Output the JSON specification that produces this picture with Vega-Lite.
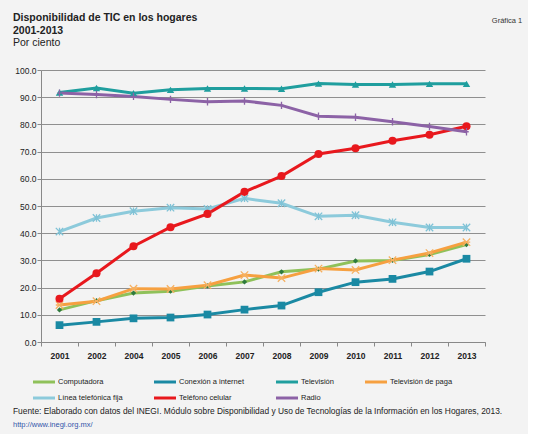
{
  "$schema": "https://vega.github.io/schema/vega-lite/v6.json",
  "background": "#f3f3f3",
  "padding": {"left": 13, "top": 13, "right": 5, "bottom": 2},
  "config": {
    "view": {"stroke": null},
    "font": "Liberation Sans",
    "axis": {"labelFont": "Liberation Sans", "labelColor": "#222"},
    "legend": {"labelFont": "Liberation Sans"}
  },
  "resolve": {"legend": {"color": "independent"}},
  "title": {"text": "Gráfica 1", "anchor": "end", "fontSize": 7.5, "fontWeight": "normal", "color": "#333", "offset": -8, "dy": 3, "dx": 20},
  "spacing": 2,
  "vconcat": [
    {
      "width": 444,
      "height": 272,
      "title": {
        "text": ["Disponibilidad de TIC en los hogares", "2001-2013"],
        "subtitle": "Por ciento",
        "anchor": "start",
        "frame": "group",
        "dx": -28,
        "fontSize": 10.5,
        "fontWeight": "bold",
        "lineHeight": 13,
        "color": "#222",
        "subtitleFontSize": 10.5,
        "subtitleColor": "#222",
        "subtitlePadding": 1,
        "offset": 18
      },
      "data": {"values": [
        {"year": "2001", "serie": "Computadora", "v": 11.8},
        {"year": "2002", "serie": "Computadora", "v": 15.2},
        {"year": "2004", "serie": "Computadora", "v": 18.0},
        {"year": "2005", "serie": "Computadora", "v": 18.7},
        {"year": "2006", "serie": "Computadora", "v": 20.6},
        {"year": "2007", "serie": "Computadora", "v": 22.1},
        {"year": "2008", "serie": "Computadora", "v": 25.8},
        {"year": "2009", "serie": "Computadora", "v": 26.8},
        {"year": "2010", "serie": "Computadora", "v": 29.8},
        {"year": "2011", "serie": "Computadora", "v": 30.0},
        {"year": "2012", "serie": "Computadora", "v": 32.2},
        {"year": "2013", "serie": "Computadora", "v": 35.8},
        {"year": "2001", "serie": "Conexión a internet", "v": 6.2},
        {"year": "2002", "serie": "Conexión a internet", "v": 7.4},
        {"year": "2004", "serie": "Conexión a internet", "v": 8.7},
        {"year": "2005", "serie": "Conexión a internet", "v": 9.0},
        {"year": "2006", "serie": "Conexión a internet", "v": 10.1},
        {"year": "2007", "serie": "Conexión a internet", "v": 11.9},
        {"year": "2008", "serie": "Conexión a internet", "v": 13.4},
        {"year": "2009", "serie": "Conexión a internet", "v": 18.3},
        {"year": "2010", "serie": "Conexión a internet", "v": 22.0},
        {"year": "2011", "serie": "Conexión a internet", "v": 23.2},
        {"year": "2012", "serie": "Conexión a internet", "v": 25.9},
        {"year": "2013", "serie": "Conexión a internet", "v": 30.6},
        {"year": "2001", "serie": "Televisión", "v": 91.7},
        {"year": "2002", "serie": "Televisión", "v": 93.4},
        {"year": "2004", "serie": "Televisión", "v": 91.5},
        {"year": "2005", "serie": "Televisión", "v": 92.7},
        {"year": "2006", "serie": "Televisión", "v": 93.2},
        {"year": "2007", "serie": "Televisión", "v": 93.2},
        {"year": "2008", "serie": "Televisión", "v": 93.1},
        {"year": "2009", "serie": "Televisión", "v": 95.0},
        {"year": "2010", "serie": "Televisión", "v": 94.7},
        {"year": "2011", "serie": "Televisión", "v": 94.7},
        {"year": "2012", "serie": "Televisión", "v": 94.9},
        {"year": "2013", "serie": "Televisión", "v": 94.9},
        {"year": "2001", "serie": "Televisión de paga", "v": 13.6},
        {"year": "2002", "serie": "Televisión de paga", "v": 15.0},
        {"year": "2004", "serie": "Televisión de paga", "v": 19.6},
        {"year": "2005", "serie": "Televisión de paga", "v": 19.5},
        {"year": "2006", "serie": "Televisión de paga", "v": 20.9},
        {"year": "2007", "serie": "Televisión de paga", "v": 24.6},
        {"year": "2008", "serie": "Televisión de paga", "v": 23.5},
        {"year": "2009", "serie": "Televisión de paga", "v": 27.0},
        {"year": "2010", "serie": "Televisión de paga", "v": 26.5},
        {"year": "2011", "serie": "Televisión de paga", "v": 30.1},
        {"year": "2012", "serie": "Televisión de paga", "v": 32.7},
        {"year": "2013", "serie": "Televisión de paga", "v": 36.7},
        {"year": "2001", "serie": "Línea telefónica fija", "v": 40.6},
        {"year": "2002", "serie": "Línea telefónica fija", "v": 45.6},
        {"year": "2004", "serie": "Línea telefónica fija", "v": 48.1},
        {"year": "2005", "serie": "Línea telefónica fija", "v": 49.4},
        {"year": "2006", "serie": "Línea telefónica fija", "v": 48.9},
        {"year": "2007", "serie": "Línea telefónica fija", "v": 52.8},
        {"year": "2008", "serie": "Línea telefónica fija", "v": 51.0},
        {"year": "2009", "serie": "Línea telefónica fija", "v": 46.2},
        {"year": "2010", "serie": "Línea telefónica fija", "v": 46.6},
        {"year": "2011", "serie": "Línea telefónica fija", "v": 44.0},
        {"year": "2012", "serie": "Línea telefónica fija", "v": 42.1},
        {"year": "2013", "serie": "Línea telefónica fija", "v": 42.1},
        {"year": "2001", "serie": "Teléfono celular", "v": 15.9},
        {"year": "2002", "serie": "Teléfono celular", "v": 25.3},
        {"year": "2004", "serie": "Teléfono celular", "v": 35.2},
        {"year": "2005", "serie": "Teléfono celular", "v": 42.2},
        {"year": "2006", "serie": "Teléfono celular", "v": 47.1},
        {"year": "2007", "serie": "Teléfono celular", "v": 55.2},
        {"year": "2008", "serie": "Teléfono celular", "v": 61.0},
        {"year": "2009", "serie": "Teléfono celular", "v": 69.1},
        {"year": "2010", "serie": "Teléfono celular", "v": 71.2},
        {"year": "2011", "serie": "Teléfono celular", "v": 74.0},
        {"year": "2012", "serie": "Teléfono celular", "v": 76.2},
        {"year": "2013", "serie": "Teléfono celular", "v": 79.3},
        {"year": "2001", "serie": "Radio", "v": 91.5},
        {"year": "2002", "serie": "Radio", "v": 91.0},
        {"year": "2004", "serie": "Radio", "v": 90.3},
        {"year": "2005", "serie": "Radio", "v": 89.2},
        {"year": "2006", "serie": "Radio", "v": 88.3},
        {"year": "2007", "serie": "Radio", "v": 88.6},
        {"year": "2008", "serie": "Radio", "v": 87.0},
        {"year": "2009", "serie": "Radio", "v": 83.0},
        {"year": "2010", "serie": "Radio", "v": 82.6},
        {"year": "2011", "serie": "Radio", "v": 81.0},
        {"year": "2012", "serie": "Radio", "v": 79.2},
        {"year": "2013", "serie": "Radio", "v": 77.3}
      ]},
      "encoding": {
        "x": {
          "field": "year", "type": "ordinal",
          "scale": {"paddingInner": 0, "paddingOuter": 0},
          "axis": {"title": null, "labelAngle": 0, "labelFontSize": 8.5, "labelFontWeight": "bold", "tickBand": "extent", "domainColor": "#888", "tickColor": "#888", "tickSize": 4, "labelPadding": 5, "grid": false}
        },
        "y": {
          "field": "v", "type": "quantitative",
          "scale": {"domain": [0, 100], "nice": false},
          "axis": {"title": null, "values": [0, 10, 20, 30, 40, 50, 60, 70, 80, 90, 100], "format": ".1f", "labelFontSize": 8.5, "gridColor": "#8f8f8f", "gridWidth": 1, "domainColor": "#888", "tickColor": "#888", "tickSize": 4, "labelPadding": 1}
        }
      },
      "layer": [
        {
          "mark": {"type": "line", "strokeWidth": 3},
          "encoding": {
            "color": {
              "field": "serie", "type": "nominal",
              "scale": {
                "domain": ["Computadora", "Conexión a internet", "Televisión", "Televisión de paga", "Línea telefónica fija", "Teléfono celular", "Radio"],
                "range": ["#8fc15a", "#1a89a3", "#1f9e9e", "#f6a040", "#8ccadb", "#e8181d", "#8c62a6"]
              },
              "legend": {
                "title": null, "orient": "none", "legendX": -4, "legendY": 305, "direction": "horizontal", "columns": 4,
                "symbolType": "M-2,0L2,0", "symbolStrokeWidth": 3, "symbolSize": 121,
                "labelFontSize": 7.5, "labelColor": "#222", "labelOffset": 7, "rowPadding": 3, "columnPadding": 25
              }
            }
          }
        },
        {
          "transform": [{"filter": "datum.serie === 'Computadora'"}],
          "mark": {"type": "point", "filled": true, "size": 28, "shape": "diamond", "color": "#2f7a3e", "opacity": 1}
        },
        {
          "transform": [{"filter": "datum.serie === 'Conexión a internet'"}],
          "mark": {"type": "point", "filled": true, "size": 60, "shape": "square", "color": "#1a89a3", "opacity": 1}
        },
        {
          "transform": [{"filter": "datum.serie === 'Televisión'"}],
          "mark": {"type": "point", "filled": true, "size": 55, "shape": "triangle-up", "color": "#1f9e9e", "opacity": 1}
        },
        {
          "transform": [{"filter": "datum.serie === 'Televisión de paga'"}],
          "mark": {"type": "point", "filled": false, "size": 55, "shape": "M-1,-1L1,1M-1,1L1,-1M-1,0L1,0", "color": "#f6b060", "strokeWidth": 1.3, "opacity": 1}
        },
        {
          "transform": [{"filter": "datum.serie === 'Línea telefónica fija'"}],
          "mark": {"type": "point", "filled": false, "size": 55, "shape": "M-1,-1L1,1M-1,1L1,-1M0,-1L0,1", "color": "#7fc2d6", "strokeWidth": 1.3, "opacity": 1}
        },
        {
          "transform": [{"filter": "datum.serie === 'Teléfono celular'"}],
          "mark": {"type": "point", "filled": true, "size": 65, "shape": "circle", "color": "#e8181d", "opacity": 1}
        },
        {
          "transform": [{"filter": "datum.serie === 'Radio'"}],
          "mark": {"type": "point", "filled": false, "size": 55, "shape": "M-0.6,0L0.6,0M0,-1L0,1", "color": "#8c62a6", "strokeWidth": 1.3, "opacity": 1}
        }
      ]
    },
    {
      "width": 444,
      "height": 1,
      "data": {"values": [{"t": ""}]},
      "mark": {"type": "text"},
      "encoding": {"text": {"field": "t"}},
      "title": {
        "text": "Fuente: Elaborado con datos del INEGI. Módulo sobre Disponibilidad y Uso de Tecnologías de la Información en los Hogares, 2013.",
        "subtitle": "\u00a0\u00a0\u00a0\u00a0\u00a0\u00a0\u00a0\u00a0\u00a0\u00a0\u00a0\u00a0\u00a0http://www.inegi.org.mx/",
        "anchor": "start",
        "frame": "group",
        "dx": -28,
        "fontSize": 8.4,
        "fontWeight": "normal",
        "color": "#222",
        "subtitleFontSize": 7.5,
        "subtitleColor": "#3355aa",
        "subtitlePadding": 6,
        "offset": 0
      }
    }
  ]
}
